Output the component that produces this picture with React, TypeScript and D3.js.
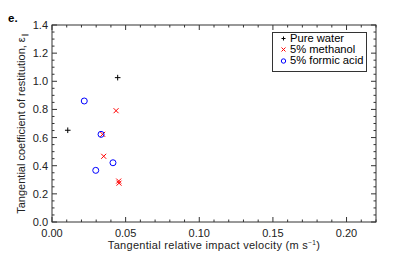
import React from "react";
import * as d3 from "d3";

const waterX = [0.0446, 0.0107];
const waterY = [1.026, 0.652];
const methanolX = [0.0435, 0.0344, 0.0351, 0.0453, 0.0455];
const methanolY = [0.791, 0.623, 0.467, 0.291, 0.276];
const formicX = [0.0219, 0.0333, 0.0297, 0.0414];
const formicY = [0.86, 0.623, 0.367, 0.421];
const xTicks = [0, 0.05, 0.1, 0.15, 0.2];
const yTicks = [0, 0.2, 0.4, 0.6, 0.8, 1.0, 1.2, 1.4];
const legendLabels = ["Pure water", "5% methanol", "5% formic acid"];

const W = 407, H = 255;
const L = 52, R = 376, T = 25, B = 222;
const FONT = "Liberation Sans, Arial, sans-serif";
const AX = "#333";

export default function App() {
  const x = d3.scaleLinear().domain([0, 0.22]).range([L, R]);
  const y = d3.scaleLinear().domain([0, 1.4]).range([B, T]);
  const xMinor = d3.range(0, 0.2201, 0.01);
  const yMinor = d3.range(0, 1.4001, 0.05);
  const isMajorX = (v: number) => xTicks.some((t) => Math.abs(t - v) < 1e-6);
  const isMajorY = (v: number) => yTicks.some((t) => Math.abs(t - v) < 1e-6);

  const plus = (cx: number, cy: number, k: string) => (
    <g key={k} stroke="#000" strokeWidth={1}>
      <line x1={cx - 2.8} x2={cx + 2.8} y1={cy} y2={cy} />
      <line x1={cx} x2={cx} y1={cy - 2.8} y2={cy + 2.8} />
    </g>
  );
  const cross = (cx: number, cy: number, k: string) => (
    <g key={k} stroke="#ff0000" strokeWidth={1}>
      <line x1={cx - 2.5} x2={cx + 2.5} y1={cy - 2.5} y2={cy + 2.5} />
      <line x1={cx - 2.5} x2={cx + 2.5} y1={cy + 2.5} y2={cy - 2.5} />
    </g>
  );
  const circ = (cx: number, cy: number, k: string) => (
    <circle key={k} cx={cx} cy={cy} r={3} fill="none" stroke="#0000ff" strokeWidth={1} />
  );

  return (
    <svg width={W} height={H} style={{ position: "absolute", left: 0, top: 0 }} fontFamily={FONT}>
      <rect width={W} height={H} fill="#fff" />
      <text x={8} y={22} fontSize={11.5} fontWeight="bold">e.</text>
      <rect x={L} y={T} width={R - L} height={B - T} fill="none" stroke={AX} strokeWidth={1} />
      {xMinor.map((v, i) => {
        const len = isMajorX(v) ? 5 : 2.5;
        return (
          <g key={"xt" + i} stroke={AX}>
            <line x1={x(v)} x2={x(v)} y1={B} y2={B - len} />
            <line x1={x(v)} x2={x(v)} y1={T} y2={T + len} />
          </g>
        );
      })}
      {yMinor.map((v, i) => {
        const len = isMajorY(v) ? 5 : 2.5;
        return (
          <g key={"yt" + i} stroke={AX}>
            <line x1={L} x2={L + len} y1={y(v)} y2={y(v)} />
            <line x1={R} x2={R - len} y1={y(v)} y2={y(v)} />
          </g>
        );
      })}
      {xTicks.map((v, i) => (
        <text key={"xl" + i} x={x(v)} y={236.5} fontSize={11} textAnchor="middle" fill="#222">
          {v.toFixed(2)}
        </text>
      ))}
      {yTicks.map((v, i) => (
        <text key={"yl" + i} x={48} y={y(v) + 4} fontSize={11} textAnchor="end" fill="#222">
          {v.toFixed(1)}
        </text>
      ))}
      <text x={214} y={248.5} fontSize={11} textAnchor="middle" fill="#222" letterSpacing={0.3}>
        Tangential relative impact velocity (m s<tspan dy={-4} fontSize={6.5}>−1</tspan><tspan dy={4}>)</tspan>
      </text>
      <text transform={`translate(24.5,${(T + B) / 2}) rotate(-90)`} fontSize={11} textAnchor="middle" fill="#222">
        Tangential coefficient of restitution, ε<tspan dy={2} fontSize={6.5}>∥</tspan>
      </text>
      {waterX.map((v, i) => plus(x(v), y(waterY[i]), "w" + i))}
      {methanolX.map((v, i) => cross(x(v), y(methanolY[i]), "m" + i))}
      {formicX.map((v, i) => circ(x(v), y(formicY[i]), "f" + i))}
      <rect x={272.5} y={32.5} width={94} height={39} fill="#fff" stroke={AX} strokeWidth={1} />
      {legendLabels.map((lab, i) => {
        const cy = 37.5 + i * 11;
        return (
          <g key={"lg" + i}>
            {i === 0 ? (
              <g stroke="#000" strokeWidth={1}>
                <line x1={281.5} x2={285.5} y1={cy + 1} y2={cy + 1} />
                <line x1={283.5} x2={283.5} y1={cy - 1} y2={cy + 3} />
              </g>
            ) : i === 1 ? (
              <g stroke="#ff0000" strokeWidth={1}>
                <line x1={281.5} x2={285.5} y1={cy - 1} y2={cy + 3} />
                <line x1={281.5} x2={285.5} y1={cy + 3} y2={cy - 1} />
              </g>
            ) : (
              <circle cx={283.5} cy={cy + 1.5} r={2.2} fill="none" stroke="#0000ff" strokeWidth={1} />
            )}
            <text x={290} y={cy + 4.5} fontSize={11.2} fill="#000">{lab}</text>
          </g>
        );
      })}
    </svg>
  );
}
